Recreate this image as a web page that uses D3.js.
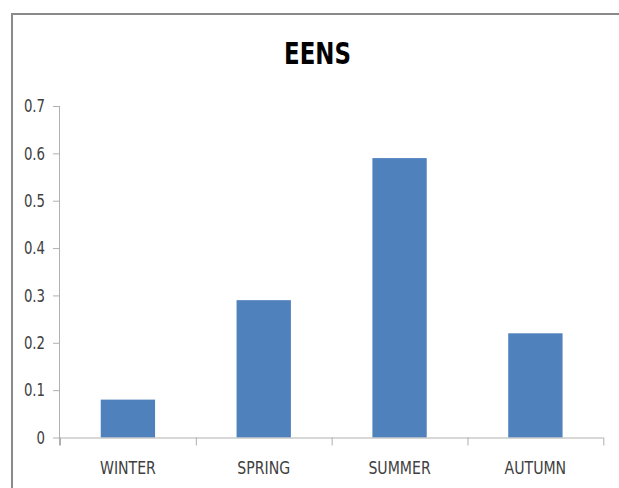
<!DOCTYPE html>
<html>
<head>
<meta charset="utf-8">
<script src="https://cdn.jsdelivr.net/npm/d3@7"></script>
<style>
  html, body { margin: 0; padding: 0; background: #fff; }
  svg { display: block; }
  text { font-family: "Liberation Sans Narrow", "Arial Narrow", "DejaVu Sans Condensed", sans-serif; }
</style>
</head>
<body>
<svg id="chart" width="619" height="488"></svg>
<script>
const title = "EENS";
const categories = ["WINTER", "SPRING", "SUMMER", "AUTUMN"];
const values = [0.08, 0.29, 0.59, 0.22];
const yTicks = [0, 0.1, 0.2, 0.3, 0.4, 0.5, 0.6, 0.7];

const svg = d3.select("#chart");
const plotLeft = 60, plotRight = 603.3, plotTop = 106, plotBottom = 437.5;

function squeeze(sel, factor) {
  sel.each(function () {
    const w = this.getComputedTextLength();
    if (w > 0) {
      d3.select(this).attr("textLength", w * factor).attr("lengthAdjust", "spacingAndGlyphs");
    }
  });
}

// outer frame (extends past the window on right and bottom)
svg.append("rect")
  .attr("x", 12).attr("y", 14)
  .attr("width", 700).attr("height", 600)
  .attr("fill", "none").attr("stroke", "#8a8a8a").attr("stroke-width", 2);

svg.append("text")
  .attr("x", 317.5).attr("y", 64)
  .attr("text-anchor", "middle")
  .attr("font-size", 31).attr("font-weight", "bold")
  .attr("fill", "#000")
  .text(title)
  .call(squeeze, 0.82);

const x = d3.scaleBand().domain(categories).range([plotLeft, plotRight])
  .paddingInner(0.6).paddingOuter(0.3);
const xEdges = d3.scaleLinear().domain([0, categories.length]).range([plotLeft, plotRight]);
const y = d3.scaleLinear().domain([0, 0.7]).range([plotBottom, plotTop]);

// bars
svg.append("g").selectAll("rect").data(values).join("rect")
  .attr("x", (d, i) => x(categories[i]))
  .attr("width", x.bandwidth())
  .attr("y", d => y(d))
  .attr("height", d => y(0) - y(d))
  .attr("fill", "#4F81BD");

// y axis
const yAxis = svg.append("g").attr("transform", `translate(${plotLeft},0)`)
  .call(d3.axisLeft(y).tickValues(yTicks).tickSize(7).tickPadding(8)
    .tickFormat(d => d === 0 ? "0" : d.toFixed(1)));
yAxis.select(".domain").attr("stroke", "#b0b0b0").attr("d", `M-0.5,${plotTop}V${plotBottom + 8}`);
yAxis.selectAll(".tick line").attr("stroke", "#b0b0b0");
yAxis.selectAll(".tick text").attr("font-size", 18).attr("fill", "#404040")
  .attr("font-family", "'Liberation Sans Narrow', 'Arial Narrow', 'DejaVu Sans Condensed', sans-serif")
  .call(squeeze, 0.82);

// x axis: edge ticks
const xAxis = svg.append("g").attr("transform", `translate(0,${plotBottom})`)
  .call(d3.axisBottom(xEdges).tickValues(d3.range(categories.length + 1)).tickSize(8).tickFormat(""));
xAxis.select(".domain").attr("stroke", "#b0b0b0").attr("d", `M${plotLeft},0.5H${plotRight}`);
xAxis.selectAll(".tick line").attr("stroke", "#b0b0b0");

// x labels
svg.append("g").selectAll("text").data(categories).join("text")
  .attr("x", d => x(d) + x.bandwidth() / 2)
  .attr("y", 474)
  .attr("text-anchor", "middle")
  .attr("font-size", 18).attr("fill", "#404040")
  .text(d => d)
  .call(squeeze, 0.87);
</script>
</body>
</html>
